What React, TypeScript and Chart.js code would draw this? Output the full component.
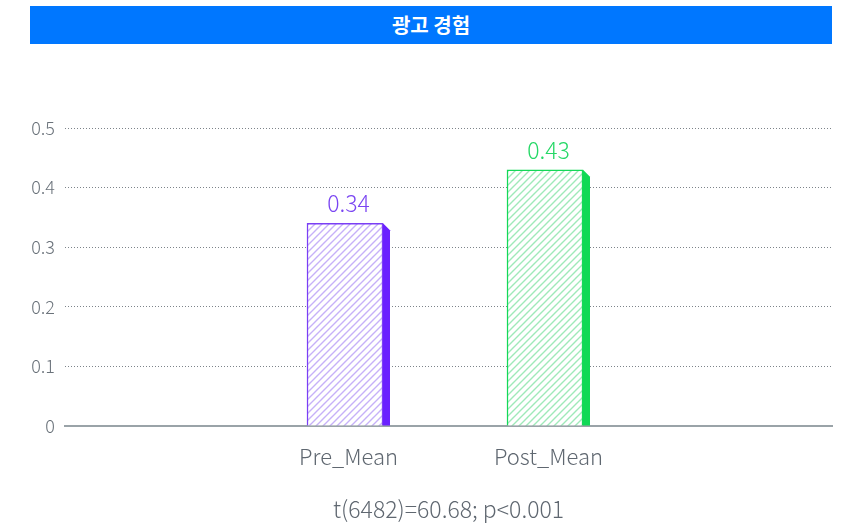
import React, { useEffect, useRef } from "react";
import { Chart, registerables } from "chart.js";

Chart.register(...registerables);

const title = "광고 경험";
const categories = ["Pre_Mean", "Post_Mean"];
const values = [0.34, 0.43];
const faceColors = ["#7b3ff5", "#14d958"];
const hatchColors = ["#c6b1f8", "#9fe9b9"];
const sideColors = ["#6a20ff", "#10d955"];
const labelColors = ["#7a45f2", "#25d866"];
const yTicks = [0, 0.1, 0.2, 0.3, 0.4, 0.5];
const footnote = "t(6482)=60.68; p<0.001";

const FONT = "'Noto Sans CJK KR', 'Noto Sans', sans-serif";

function makeHatch(color: string): CanvasPattern | string {
  const size = 7;
  const c = document.createElement("canvas");
  c.width = size;
  c.height = size;
  const g = c.getContext("2d");
  if (!g) return color;
  g.fillStyle = "#ffffff";
  g.fillRect(0, 0, size, size);
  g.strokeStyle = color;
  g.lineWidth = 1.4;
  g.beginPath();
  g.moveTo(-1, size + 1);
  g.lineTo(size + 1, -1);
  g.moveTo(-1, 1);
  g.lineTo(1, -1);
  g.moveTo(size - 1, size + 1);
  g.lineTo(size + 1, size - 1);
  g.stroke();
  const p = g.createPattern(c, "repeat");
  return p || color;
}

// Draws the shaded right-hand side of each bar and the value above it.
const barDecor = {
  id: "barDecor",
  afterDatasetsDraw(chart: any) {
    const ctx = chart.ctx;
    const meta = chart.getDatasetMeta(0);
    meta.data.forEach((bar: any, i: number) => {
      const { x, y, base, width } = bar.getProps(["x", "y", "base", "width"], true);
      const r = x + width / 2;
      const d = 7;
      ctx.save();
      ctx.fillStyle = sideColors[i];
      ctx.beginPath();
      ctx.moveTo(r, y);
      ctx.lineTo(r + d, y + d);
      ctx.lineTo(r + d, base);
      ctx.lineTo(r, base);
      ctx.closePath();
      ctx.fill();
      ctx.fillStyle = labelColors[i];
      ctx.font = `300 23px ${FONT}`;
      ctx.textAlign = "center";
      ctx.textBaseline = "alphabetic";
      ctx.fillText(values[i].toFixed(2), x + d / 2, y - 11);
      ctx.restore();
    });
  },
};

export default function App() {
  const ref = useRef<HTMLCanvasElement>(null);

  useEffect(() => {
    document.body.style.margin = "0";
    if (!ref.current) return;
    const chart = new Chart(ref.current, {
      type: "bar",
      data: {
        datasets: [
          {
            data: values.map((v, i) => ({ x: i, y: v })),
            backgroundColor: hatchColors.map((c) => makeHatch(c)) as any,
            borderColor: faceColors,
            borderWidth: 1.5,
            barThickness: 76,
          },
        ],
      },
      options: {
        animation: false,
        responsive: false,
        maintainAspectRatio: false,
        layout: { padding: { left: 0, right: 18, top: 128, bottom: 0 } },
        plugins: {
          legend: { display: false },
          tooltip: { enabled: false },
        },
        scales: {
          x: {
            type: "linear",
            offset: false,
            bounds: "data",
            min: -1.4,
            max: 2.435,
            afterBuildTicks: (scale: any) => {
              scale.ticks = categories.map((_, i) => ({ value: i }));
            },
            afterFit: (scale: any) => {
              scale.height = 97;
            },
            grid: { display: false, drawTicks: false },
            border: { display: true, color: "#9aa3a8", width: 2 },
            ticks: {
              padding: 17,
              labelOffset: 3.5,
              color: "#5f6770",
              font: { family: FONT, size: 22, weight: "300" as any },
              callback: (v: any) => categories[v] ?? "",
            },
          },
          y: {
            min: 0,
            max: 0.5,
            afterBuildTicks: (scale: any) => {
              scale.ticks = yTicks.map((v) => ({ value: v }));
            },
            afterFit: (scale: any) => {
              scale.width = 65;
            },
            border: { display: false, dash: [1, 2] },
            grid: {
              drawTicks: false,
              color: (c: any) => (c.tick && c.tick.value === 0 ? "rgba(0,0,0,0)" : "#7d848a"),
              lineWidth: 1,
            },
            ticks: {
              padding: 10,
              color: "#6a727a",
              font: { family: FONT, size: 18, weight: "300" as any },
              callback: (v: any) => (v === 0 ? "0" : Number(v).toFixed(1)),
            },
          },
        },
      },
      plugins: [barDecor],
    } as any);
    return () => chart.destroy();
  }, []);

  return (
    <div style={{ position: "relative", width: 850, height: 523, background: "#fff" }}>
      <div
        style={{
          position: "absolute",
          left: 30,
          top: 6,
          width: 802,
          height: 38,
          background: "#0077ff",
          color: "#fff",
          fontFamily: FONT,
          fontWeight: 700,
          fontSize: 20,
          lineHeight: "38px",
          textAlign: "center",
        }}
      >
        {title}
      </div>
      <canvas
        ref={ref}
        width={850}
        height={523}
        style={{ position: "absolute", left: 0, top: 0, width: 850, height: 523 }}
      />
      <div
        style={{
          position: "absolute",
          left: 0,
          width: 850,
          top: 492,
          textAlign: "center",
          fontFamily: FONT,
          fontWeight: 300,
          fontSize: 23,
          lineHeight: "32px",
          color: "#5f6770",
          paddingLeft: 47,
          boxSizing: "border-box",
        }}
      >
        {footnote}
      </div>
    </div>
  );
}
